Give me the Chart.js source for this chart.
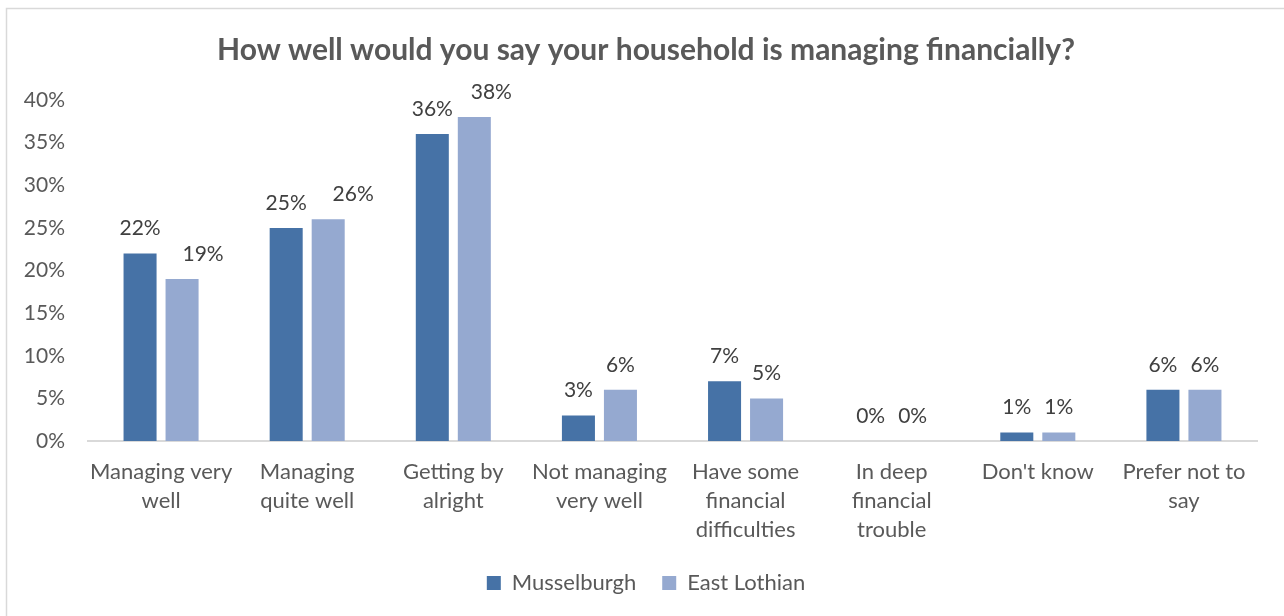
<!DOCTYPE html>
<html>
<head>
<meta charset="utf-8">
<script src="https://cdn.jsdelivr.net/npm/chart.js@4.4.1/dist/chart.umd.min.js"></script>
<style>
  html, body { margin: 0; padding: 0; background: #ffffff; }
  #wrap { width: 1284px; height: 616px; position: relative; }
</style>
</head>
<body>
<div id="wrap"><canvas id="c" width="1284" height="616"></canvas></div>
<script>
const categories = [
  ["Managing very", "well"],
  ["Managing", "quite well"],
  ["Getting by", "alright"],
  ["Not managing", "very well"],
  ["Have some", "financial", "difficulties"],
  ["In deep", "financial", "trouble"],
  ["Don't know"],
  ["Prefer not to", "say"]
];
const musselburgh = [22, 25, 36, 3, 7, 0, 1, 6];
const eastLothian = [19, 26, 38, 6, 5, 0, 1, 6];
const yTicks = [0, 5, 10, 15, 20, 25, 30, 35, 40];
const seriesNames = ["Musselburgh", "East Lothian"];

const FONT = "Lato, 'Noto Sans', sans-serif";

const frame = {
  id: 'frame',
  beforeDraw(chart) {
    const ctx = chart.ctx;
    ctx.save();
    ctx.fillStyle = '#ffffff';
    ctx.fillRect(0, 0, chart.width, chart.height);
    ctx.strokeStyle = '#d9d9d9';
    ctx.lineWidth = 1.5;
    ctx.strokeRect(6.5, 8.5, chart.width + 20, chart.height + 20);
    ctx.restore();
  }
};

const valueLabels = {
  id: 'valueLabels',
  afterDatasetsDraw(chart, args, opts) {
    const ctx = chart.ctx;
    ctx.save();
    ctx.font = opts.size + 'px ' + FONT;
    ctx.fillStyle = opts.color;
    ctx.textAlign = 'center';
    ctx.textBaseline = 'middle';
    chart.data.datasets.forEach((ds, i) => {
      const meta = chart.getDatasetMeta(i);
      meta.data.forEach((bar, j) => {
        const shift = (opts.shifts[i] || [])[j] || 0;
        ctx.fillText(ds.data[j] + '%', bar.x + shift, bar.y - opts.offset);
      });
    });
    ctx.restore();
  }
};

new Chart(document.getElementById('c'), {
  type: 'bar',
  data: {
    labels: categories,
    datasets: [
      { label: seriesNames[0], data: musselburgh, backgroundColor: '#4672a6', borderWidth: 0 },
      { label: seriesNames[1], data: eastLothian, backgroundColor: '#95a9d0', borderWidth: 0 }
    ]
  },
  options: {
    responsive: false,
    animation: false,
    devicePixelRatio: 1,
    layout: { padding: { left: 8, right: 0, top: 0, bottom: 12 } },
    datasets: {
      bar: { categoryPercentage: 0.575, barPercentage: 0.786 }
    },
    scales: {
      x: {
        afterFit(scale) { scale.height = 105; },
        grid: { display: false, drawTicks: false },
        border: { display: true, color: '#d9d9d9', width: 2 },
        ticks: {
          color: '#595959',
          font: { family: FONT, size: 22, lineHeight: 1.318 },
          padding: 16,
          maxRotation: 0,
          autoSkip: false
        }
      },
      y: {
        min: 0,
        max: 40,
        afterBuildTicks(scale) { scale.ticks = yTicks.map(v => ({ value: v })); },
        afterFit(scale) { scale.width = 80; },
        grid: { display: false, drawTicks: false },
        border: { display: false },
        ticks: {
          color: '#595959',
          font: { family: FONT, size: 21 },
          padding: 23,
          callback: v => v + '%'
        }
      },
      spacer: {
        type: 'linear',
        position: 'right',
        afterFit(scale) { scale.width = 27; },
        grid: { display: false, drawTicks: false },
        border: { display: false },
        ticks: { display: false }
      }
    },
    plugins: {
      title: {
        display: true,
        text: 'How well would you say your household is managing financially?',
        color: '#595959',
        font: { family: FONT, size: 30, weight: 'bold' },
        padding: { top: 32, bottom: 32 }
      },
      legend: {
        position: 'bottom',
        labels: {
          color: '#595959',
          font: { family: FONT, size: 22 },
          boxWidth: 14,
          boxHeight: 14,
          padding: 26
        }
      },
      tooltip: { enabled: false },
      valueLabels: {
        size: 21,
        color: '#404040',
        offset: 25,
        shifts: [[0, 0, 0, 0, 0, 0, 0, 0], [21, 25, 17, 0, 0, 0, 0, 0]]
      }
    }
  },
  plugins: [frame, valueLabels]
});
</script>
</body>
</html>
